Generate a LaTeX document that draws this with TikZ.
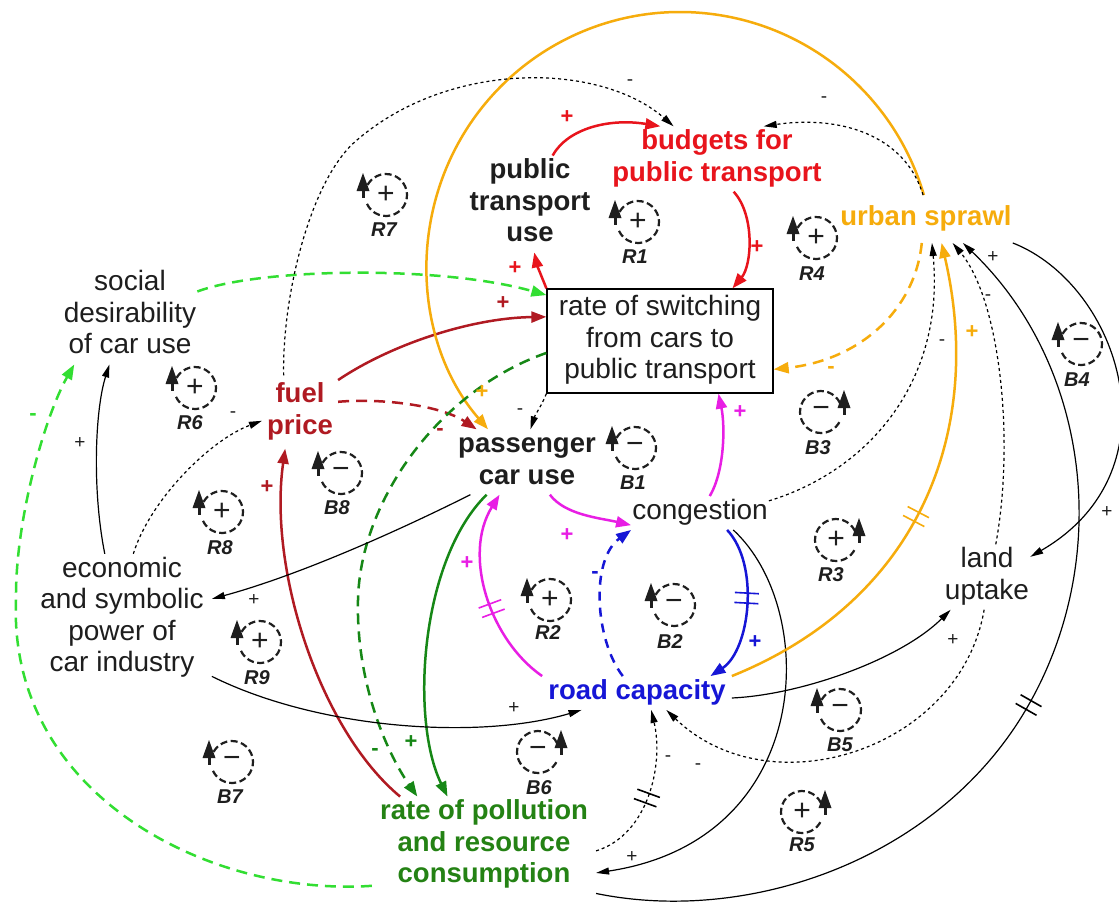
\documentclass[tikz,border=0pt]{standalone}
\usepackage{fontspec}
\setmainfont{Liberation Sans}
\usetikzlibrary{arrows.meta,decorations.markings}

\definecolor{cred}{RGB}{232,20,28}
\definecolor{cdred}{RGB}{176,26,34}
\definecolor{corange}{RGB}{246,172,12}
\definecolor{cmag}{RGB}{232,30,228}
\definecolor{cblue}{RGB}{22,22,214}
\definecolor{cdgreen}{RGB}{22,135,22}
\definecolor{cpoll}{RGB}{36,130,20}
\definecolor{cgreen}{RGB}{50,222,50}
\definecolor{ctext}{RGB}{30,30,30}

% multi-line label with fixed row pitch
\newcommand\txtlines[1]{\begin{tabular}{@{}c@{}}#1\end{tabular}}

\tikzset{
  lbl/.style={inner sep=1pt, font=\fontsize{28}{31.5}\selectfont, text=ctext},
  blbl/.style={inner sep=1pt, font=\fontsize{27.5}{31.5}\selectfont\bfseries, text=ctext},
  flow/.style={line width=2.5pt, -{Triangle[length=15pt,width=11pt]}},
  thinflow/.style={line width=1.2pt, -{Triangle[length=13pt,width=7pt]}},
  dashline/.style={dash pattern=on 11pt off 7pt},
  dotline/.style={dash pattern=on 3pt off 3pt},
  sgn/.style={inner sep=0pt, font=\fontsize{22}{22}\selectfont\bfseries},
  bsgn/.style={inner sep=0pt, font=\fontsize{19}{19}\selectfont, text=ctext},
  loopc/.style={dash pattern=on 7pt off 3.5pt, line width=2.2pt, ctext},
  loopsgn/.style={inner sep=0pt, font=\fontsize{30}{30}\selectfont, text=ctext},
  looplbl/.style={inner sep=0pt, font=\fontsize{20}{20}\selectfont\bfseries\itshape, text=ctext},
  dly/.style 2 args={postaction={decorate,decoration={markings,
     mark=at position #1 with {\draw[#2,solid,line width=1.6pt,-]
       (-5pt,-12pt)--(-5pt,12pt) (5pt,-12pt)--(5pt,12pt);}}}}
}

% loop marker: name, x, y, sign, arrow side (-1 left, 1 right), label x, label y
\newcommand\loopmark[7]{%
  \draw[loopc] ([shift={({115-90*#5}:21pt)}]#2,#3)
     arc[start angle={115-90*#5}, end angle={425-90*#5}, radius=21pt];
  \node[loopsgn] (#1s) at (#2,#3) {#4};
  \fill[ctext] ({#2+#5*23},{#3-22}) -- ({#2+#5*23-6.5},{#3-4}) -- ({#2+#5*23+6.5},{#3-4}) -- cycle;
  \draw[ctext,line width=3pt] ({#2+#5*23},{#3-8}) -- ({#2+#5*23},{#3+3});
  \node[looplbl] (#1) at (#6,#7) {#1};
}

\begin{document}
\begin{tikzpicture}[x=1pt,y=-1pt]
\fill[white] (0,0) rectangle (1119,906);
\useasboundingbox (0,0) rectangle (1119,906);

% ---------- variables ----------
\node[blbl] (ptu) at (530,204) {\txtlines{public\\transport\\use}};
\node[blbl,text=cred] (bud) at (717,159) {\txtlines{budgets for\\public transport}};
\node[blbl,text=corange,inner ysep=8pt] (us) at (926,219) {\txtlines{urban sprawl}};
\node[lbl,draw=black,line width=1.3pt,minimum width=226pt,minimum height=104pt] (rate) at (660,341)
  {\txtlines{rate of switching\\from cars to\\public transport}};
\node[lbl] (sdc) at (130,316) {\txtlines{social\\desirability\\of car use}};
\node[blbl,text=cdred,inner sep=5pt] (fp) at (300,412) {\txtlines{fuel\\price}};
\node[blbl] (pcu) at (527,462) {\txtlines{passenger\\car use}};
\node[lbl] (cong) at (700,513) {\txtlines{congestion}};
\node[lbl,inner xsep=8pt] (econ) at (122,618) {\txtlines{economic\\and symbolic\\power of\\car industry}};
\node[lbl] (land) at (987,577) {\txtlines{land\\uptake}};
\node[blbl,text=cblue,inner xsep=6pt] (rc) at (637,693) {\txtlines{road capacity}};
\node[blbl,text=cpoll,inner xsep=8pt] (poll) at (484,845) {\txtlines{rate of pollution\\and resource\\consumption}};

% ---------- causal links ----------
% public transport / budgets loop
\draw[flow,cred] (ptu.65) .. controls (568,128) and (610,118) .. (bud.150);
\draw[flow,cred] (bud.-63) .. controls (755,215) and (752,265) .. (rate.36);
\draw[flow,cred] (rate.north west) .. controls (543,280) and (537,265) .. (ptu.-85);
\draw[flow,cgreen,dashline] (sdc.20) .. controls (260,268) and (440,265) .. (rate.158);
\draw[flow,cdred] (fp.40) .. controls (390,345) and (470,318) .. (rate.168);
\draw[flow,cdred,dashline] (fp.15) .. controls (380,398) and (440,405) .. (pcu.147);
\draw[thinflow,dotline] (rate.south west) .. controls (542,405) and (535,415) .. (pcu.84);
\draw[flow,corange] (us.95) .. controls (894.7,95.8) and (808.6,23.8) .. (705.6,13.3)
  .. controls (602.6,2.8) and (503.8,56.1) .. (455.8,147.8)
  .. controls (407.8,239.5) and (420.7,351.5) .. (pcu.140);

% congestion and road capacity
\draw[flow,cmag] (cong.60) .. controls (725,470) and (725,425) .. (rate.-42);
\draw[flow,cmag] (pcu.-55) .. controls (565,515) and (600,518) .. (cong.-170);
\draw[flow,cmag,dly={0.42}{cmag}] (rc.north west) .. controls (490,640) and (462,555) .. (pcu.-130);
\draw[flow,cblue,dash pattern=on 9pt off 7pt] (rc.130) .. controls (595,640) and (590,560) .. (cong.south west);
\draw[flow,cblue,dly={0.45}{cblue}] (cong.-32) .. controls (760,565) and (750,650) .. (rc.13);

% pollution
\draw[flow,cdgreen] (pcu.-141) .. controls (420,560) and (410,720) .. (poll.127);
\draw[flow,cdgreen,dashline] (rate.186) .. controls (440,390) and (360,500) .. (358,600)
  .. controls (356,680) and (385,750) .. (poll.144);
\draw[flow,cdred] (poll.150) .. controls (320,730) and (268,570) .. (fp.-112);
\draw[flow,cgreen,dashline] (poll.-160) .. controls (210,897) and (8,795) .. (16,600)
  .. controls (15,520) and (45,416) .. (sdc.-139);

% car industry
\draw[thinflow] (econ.105) .. controls (92,490) and (95,410) .. (sdc.-113);
\draw[thinflow,dotline] (econ.80) .. controls (150,500) and (210,440) .. (fp.-167);
\draw[thinflow] (pcu.-150) .. controls (400,530) and (300,575) .. (econ.12);
\draw[thinflow] (econ.-33) .. controls (320,730) and (480,740) .. (rc.-163);

% land use and sprawl
\draw[thinflow] (rc.-3) .. controls (800,695) and (900,660) .. (land.-138);
\draw[thinflow] (us.south east) .. controls (1120,285) and (1180,470) .. (land.25);
\draw[thinflow,dotline] (land.75) .. controls (1015,440) and (1000,300) .. (us.-42);
\draw[thinflow,dly={0.5}{black}] (poll.south east) .. controls (750,925) and (939.2,858.9) .. (1026.9,707.9)
  .. controls (1114.6,556.9) and (1088.8,363.4) .. (us.-33);
\draw[thinflow] (cong.-27) .. controls (820,610) and (815,840) .. (poll.-14.5);
\draw[thinflow,dotline,dly={0.46}{black}] (poll.-3) .. controls (648,835) and (664,765) .. (rc.-50);
\draw[thinflow,dotline] (land.-95) .. controls (960,750) and (770,810) .. (rc.-30);
\draw[thinflow,dotline] (cong.10) .. controls (870,470) and (945,380) .. (us.-76);
\draw[flow,corange,dly={0.47}{corange}] (rc.north east) .. controls (920,600) and (985,430) .. (us.-57);
\draw[flow,corange,dashline] (us.-100) .. controls (915,310) and (860,360) .. (rate.-14);
\draw[thinflow,dotline] (us.97) .. controls (905,135) and (840,115) .. (bud.35);
\draw[thinflow,dotline] (fp.114) .. controls (282,295) and (311,178) .. (357,140)
  .. controls (450,60) and (600,62) .. (bud.143);

% ---------- link polarities ----------
\node[sgn,cred] (s1) at (567,117) {+};
\node[sgn,cred] (s2) at (757,247) {+};
\node[sgn,cred] (s3) at (515,268) {+};
\node[sgn,cdred] (s5) at (503,303) {+};
\node[sgn,cdred] (s6) at (440,432) {-};
\node[bsgn] (s7) at (520,412) {-};
\node[sgn,corange] (s8) at (482,392) {+};
\node[sgn,cmag] (s9) at (740,412) {+};
\node[sgn,cmag] (s10) at (567,535) {+};
\node[sgn,cmag] (s11) at (467,563) {+};
\node[sgn,cblue] (s12) at (595,575) {-};
\node[sgn,cblue] (s13) at (755,642) {+};
\node[sgn,cdgreen] (s14) at (411,742) {+};
\node[sgn,cdgreen] (s15) at (375,752) {-};
\node[sgn,cdred] (s16) at (267,487) {+};
\node[sgn,cgreen] (s17) at (33,417) {-};
\node[bsgn] (s18) at (80,443) {+};
\node[bsgn] (s19) at (233,415) {-};
\node[bsgn] (s20) at (254,600) {+};
\node[bsgn] (s21) at (514,708) {+};
\node[bsgn] (s22) at (953,640) {+};
\node[bsgn] (s23) at (1107,512) {+};
\node[bsgn] (s24) at (988,298) {-};
\node[bsgn] (s25) at (993,257) {+};
\node[bsgn] (s26) at (632,857) {+};
\node[bsgn] (s27) at (668,759) {-};
\node[bsgn] (s28) at (698,767) {-};
\node[bsgn] (s29) at (942,343) {-};
\node[sgn,corange] (s30) at (972,332) {+};
\node[sgn,corange] (s31) at (831,370) {-};
\node[bsgn] (s32) at (824,100) {-};
\node[bsgn] (s33) at (630,83) {-};

% ---------- loop markers ----------
\loopmark{R7}{386}{195}{+}{-1}{384}{230}
\loopmark{R1}{638}{222}{+}{-1}{635}{257}
\loopmark{R4}{816}{238}{+}{-1}{812}{274}
\loopmark{B4}{1081}{344}{−}{-1}{1077}{380}
\loopmark{B3}{821}{412}{−}{1}{818}{448}
\loopmark{R6}{195}{388}{+}{-1}{190}{423}
\loopmark{B8}{341}{473}{−}{-1}{337}{508}
\loopmark{R8}{222}{512}{+}{-1}{220}{548}
\loopmark{R9}{260}{642}{+}{-1}{257}{678}
\loopmark{B7}{232}{762}{−}{-1}{230}{797}
\loopmark{B1}{635}{448}{−}{-1}{633}{483}
\loopmark{R2}{550}{600}{+}{-1}{548}{633}
\loopmark{B2}{674}{605}{−}{-1}{670}{642}
\loopmark{B6}{538}{752}{−}{1}{539}{788}
\loopmark{R3}{836}{540}{+}{1}{831}{575}
\loopmark{B5}{840}{710}{−}{-1}{840}{745}
\loopmark{R5}{802}{812}{+}{1}{802}{845}

\end{tikzpicture}
\end{document}
